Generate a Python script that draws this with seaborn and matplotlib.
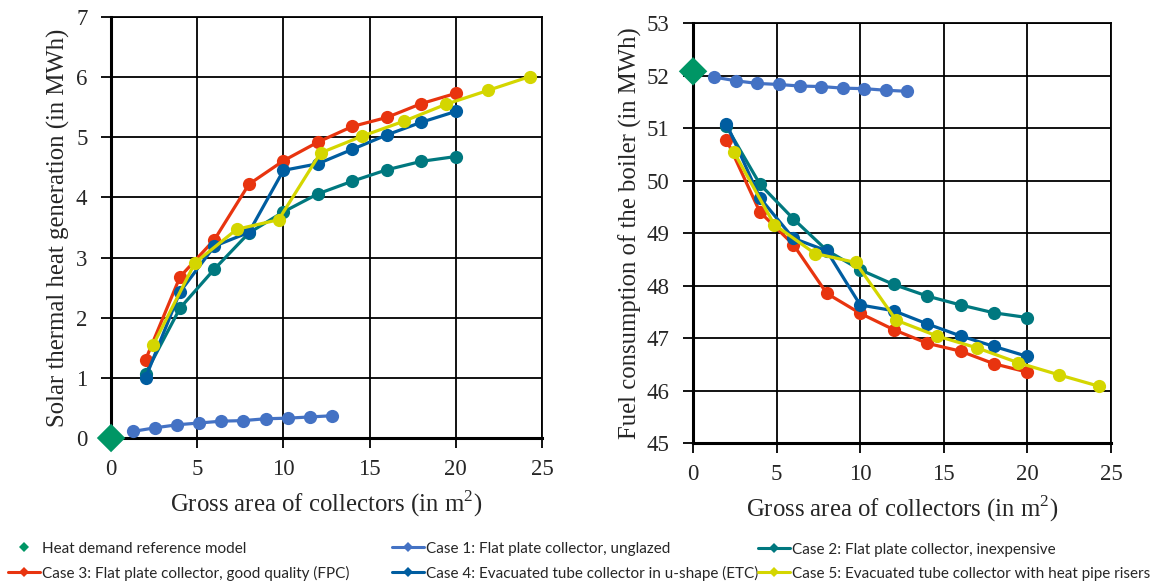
import matplotlib
matplotlib.use("Agg")
import matplotlib.pyplot as plt
import seaborn as sns
import numpy as np
from matplotlib.lines import Line2D

# ---- data ----
ref_x = [0]
ref_heat = [0.0]
ref_fuel = [52.08]

c1_x = [1.28, 2.56, 3.84, 5.12, 6.4, 7.68, 8.96, 10.24, 11.52, 12.8]
c1_heat = [0.11, 0.17, 0.22, 0.25, 0.28, 0.29, 0.32, 0.33, 0.35, 0.37]
c1_fuel = [51.97, 51.90, 51.85, 51.83, 51.80, 51.79, 51.76, 51.75, 51.72, 51.70]

c234_x = [2, 4, 6, 8, 10, 12, 14, 16, 18, 20]
c2_heat = [1.07, 2.16, 2.81, 3.41, 3.76, 4.06, 4.27, 4.46, 4.60, 4.68]
c2_fuel = [51.03, 49.93, 49.27, 48.67, 48.30, 48.02, 47.80, 47.63, 47.48, 47.39]
c3_heat = [1.30, 2.68, 3.30, 4.22, 4.61, 4.92, 5.18, 5.33, 5.56, 5.73]
c3_fuel = [50.78, 49.40, 48.78, 47.85, 47.47, 47.16, 46.90, 46.75, 46.51, 46.35]
c4_heat = [1.00, 2.43, 3.19, 3.42, 4.45, 4.56, 4.80, 5.04, 5.25, 5.43]
c4_fuel = [51.08, 49.67, 48.90, 48.66, 47.63, 47.52, 47.27, 47.04, 46.84, 46.65]

c5_x = [2.43, 4.86, 7.29, 9.72, 12.15, 14.58, 17.01, 19.44, 21.87, 24.3]
c5_heat = [1.54, 2.91, 3.47, 3.63, 4.74, 5.02, 5.27, 5.55, 5.78, 6.01]
c5_fuel = [50.55, 49.16, 48.61, 48.44, 47.34, 47.04, 46.81, 46.53, 46.30, 46.08]

labels = [
    "Heat demand reference model",
    "Case 1: Flat plate collector, unglazed",
    "Case 2: Flat plate collector, inexpensive",
    "Case 3: Flat plate collector, good quality (FPC)",
    "Case 4: Evacuated tube collector in u-shape (ETC)",
    "Case 5: Evacuated tube collector with heat pipe risers",
]
colors = ["#009665", "#4472C4", "#00787F", "#E8340F", "#005DA0", "#D4D600"]

x_ticks = [0, 5, 10, 15, 20, 25]
left_yticks = [0, 1, 2, 3, 4, 5, 6, 7]
right_yticks = [45, 46, 47, 48, 49, 50, 51, 52, 53]

xlabel_txt = "Gross area of collectors (in m$^{2}$)"
left_ylabel = "Solar thermal heat generation (in MWh)"
right_ylabel = "Fuel consumption of the boiler (in MWh)"

# ---- style ----
sns.set_style("white")
SERIF = ["Liberation Serif", "DejaVu Serif"]
plt.rcParams["font.family"] = SERIF
plt.rcParams["mathtext.fontset"] = "custom"
plt.rcParams["mathtext.rm"] = "Liberation Serif"

fig = plt.figure(figsize=(11.52, 5.82), dpi=100)
axL = fig.add_axes([0.0964, 0.2474, 0.3741, 0.7234])
axR = fig.add_axes([0.6016, 0.2388, 0.3628, 0.7216])

LW = 2.3
MS = 9.5

def draw(ax, heat_sets, ref_y, ylim, yticks, ylabel, ylpad):
    ax.set_axisbelow(True)
    for (xs, ys), c in zip(heat_sets, colors[1:]):
        sns.lineplot(x=xs, y=ys, ax=ax, color=c, marker="o", markersize=MS,
                     markeredgewidth=0, linewidth=LW, sort=False,
                     estimator=None, legend=False, zorder=3)
    sns.scatterplot(x=ref_x, y=ref_y, ax=ax, color=colors[0], marker="D",
                    s=210, edgecolor="none", legend=False, zorder=5,
                    clip_on=False)
    ax.set_xlim(0, 25)
    ax.set_ylim(*ylim)
    ax.set_xticks(x_ticks)
    ax.set_xticklabels([str(v) for v in x_ticks])
    ax.set_yticks(yticks)
    ax.set_yticklabels([str(v) for v in yticks])
    ax.grid(True, color="black", linewidth=1.3)
    for s in ax.spines.values():
        s.set_color("black")
        s.set_linewidth(1.3)
    ax.spines["left"].set_linewidth(2.2)
    ax.spines["bottom"].set_linewidth(2.2)
    ax.tick_params(axis="both", direction="out", length=7, width=1.3,
                   color="black", labelsize=16.5, pad=10,
                   bottom=True, left=True)
    ax.tick_params(axis="x", pad=8)
    for lbl in ax.get_xticklabels() + ax.get_yticklabels():
        lbl.set_fontfamily(SERIF)
    ax.set_xlabel(xlabel_txt, fontsize=17.8, labelpad=6, fontfamily=SERIF)
    ax.set_ylabel(ylabel, fontsize=17.8, labelpad=ylpad, fontfamily=SERIF)
    for c in ax.collections:
        c.set_clip_on(False)

draw(axL, [(c1_x, c1_heat), (c234_x, c2_heat), (c234_x, c3_heat),
           (c234_x, c4_heat), (c5_x, c5_heat)], ref_heat, (0, 7),
     left_yticks, left_ylabel, 4)
draw(axR, [(c1_x, c1_fuel), (c234_x, c2_fuel), (c234_x, c3_fuel),
           (c234_x, c4_fuel), (c5_x, c5_fuel)], ref_fuel, (45, 53),
     right_yticks, right_ylabel, 3)

# ---- legend ----
def handle(i):
    if i == 0:
        return Line2D([], [], color=colors[0], marker="D", markersize=5,
                      linestyle="none", markeredgewidth=0)
    return Line2D([], [], color=colors[i], marker="D", markersize=5,
                  linewidth=2.2, markeredgewidth=0)

legfont = {"family": ["Lato", "Open Sans", "DejaVu Sans"], "size": 11.0}
cols = [(0, 3, 0.002), (1, 4, 0.335), (2, 5, 0.653)]
for a, b, xpos in cols:
    fig.legend([handle(a), handle(b)], [labels[a], labels[b]],
               loc="lower left", bbox_to_anchor=(xpos, -0.008),
               frameon=False, prop=legfont, handlelength=2.1,
               handletextpad=0.1, labelspacing=0.65, borderaxespad=0.0)

fig.savefig("out.png", dpi=100)
